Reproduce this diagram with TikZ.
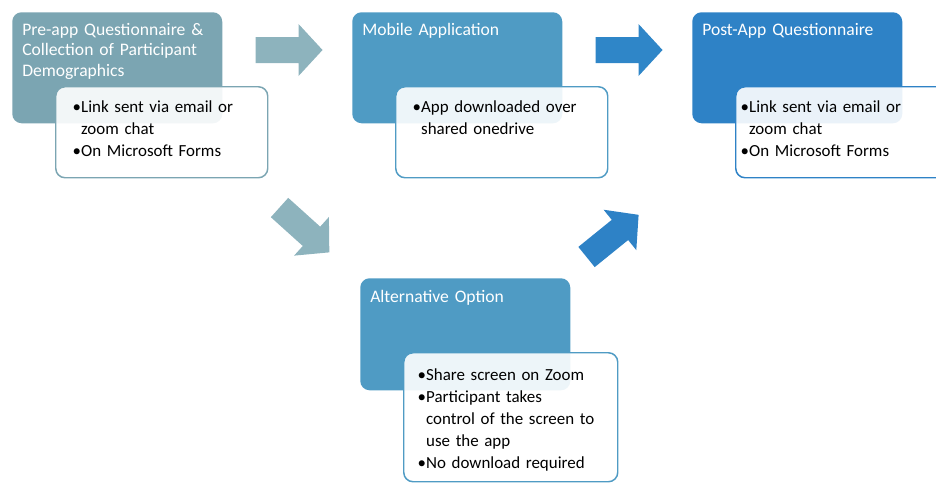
\documentclass[tikz,border=0pt]{standalone}
\usepackage{fontspec}
\setmainfont{Carlito}
\usetikzlibrary{positioning}

\definecolor{preteal}{HTML}{7BA5B2}
\definecolor{appblue}{HTML}{4F9BC4}
\definecolor{postblue}{HTML}{2E82C6}
\definecolor{arrowteal}{HTML}{8DB3BD}
\definecolor{arrowblue}{HTML}{2F86C8}

\tikzset{
  stagebox/.style={rectangle, rounded corners=7pt, anchor=north west,
    text=white, align=left, text width=142.5pt, inner xsep=7.5pt, inner ysep=0pt,
    text height=17.25pt, text depth=66pt, font=\fontsize{13.2}{15.4}\selectfont},
  notebox/.style={rectangle, rounded corners=7pt, anchor=north west, draw,
    line width=1.1pt, fill=white, fill opacity=0.9, text opacity=1, text=black,
    align=left, inner ysep=0pt, text height=19.5pt, text depth=48.75pt,
    font=\fontsize{12.7}{16.5}\selectfont},
  pics/blockarrow/.style={code={
    \fill (0,-13) -- (43,-13) -- (43,-26) -- (67,0) -- (43,26) -- (43,13) -- (0,13) -- cycle;}}
}

\begin{document}
\begin{tikzpicture}[x=0.75pt, y=-0.75pt]
  \useasboundingbox (0,0) rectangle (936,483);

  % stages
  \node[stagebox, fill=preteal] (pre) at (12,12)
    {Pre-app Questionnaire \&\\Collection of Participant\\Demographics};
  \node[stagebox, fill=appblue] (app) at (352,12) {Mobile Application};
  \node[stagebox, fill=postblue] (post) at (692,12) {Post-App Questionnaire};
  \node[stagebox, fill=appblue, text height=18pt] (alt) at (360,278) {Alternative Option};

  % notes
  \node[notebox, draw=preteal, inner xsep=12.75pt, text width=133.5pt]
    (prenote) at ([shift={(43,74)}]pre.north west)
    {\textbullet Link sent via email or\\\phantom{\textbullet}zoom chat\\\textbullet On Microsoft Forms};
  \node[notebox, draw=appblue, inner xsep=12.75pt, text width=133.5pt]
    (appnote) at ([shift={(43,74)}]app.north west)
    {\textbullet App downloaded over\\\phantom{\textbullet}shared onedrive};
  \node[notebox, draw=postblue, inner xsep=3.75pt, text width=151.5pt]
    (postnote) at ([shift={(43,74)}]post.north west)
    {\textbullet Link sent via email or\\\phantom{\textbullet}zoom chat\\\textbullet On Microsoft Forms};
  \node[notebox, draw=appblue, inner xsep=10.5pt, text width=139.5pt,
    text height=21pt, text depth=75.75pt]
    (altnote) at ([shift={(43,74)}]alt.north west)
    {\textbullet Share screen on Zoom\\\textbullet Participant takes\\\phantom{\textbullet}control of the screen to\\\phantom{\textbullet}use the app\\\textbullet No download required};

  % arrows
  \pic[fill=arrowteal] at ([shift={(33,38)}]pre.north east) {blockarrow};
  \pic[fill=arrowblue] at ([shift={(33,38)}]app.north east) {blockarrow};
  \pic[fill=arrowteal, rotate=-42] at ([shift={(57,84)}]pre.south east) {blockarrow};
  \pic[fill=postblue, rotate=39] at ([shift={(16,-21)}]alt.north east) {blockarrow};
\end{tikzpicture}
\end{document}
